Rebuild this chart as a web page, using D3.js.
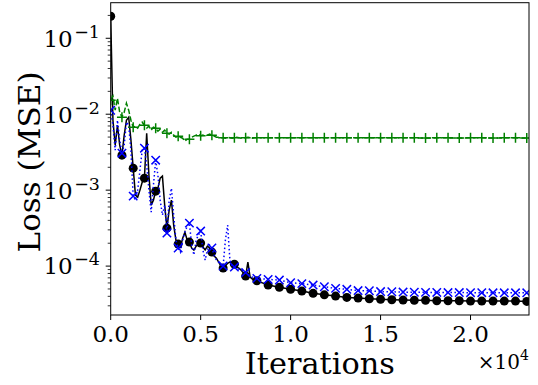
<!DOCTYPE html>
<html lang="en">
<head>
<meta charset="utf-8">
<title>Training loss</title>
<script src="https://cdn.jsdelivr.net/npm/d3@7"></script>
<style>
  body { margin: 0; background: #fff; }
  text { font-family: "DejaVu Serif", serif; fill: #000; }
</style>
</head>
<body>
<script>

// iteration grid: dense logging at the start, then one point per marker
const iterations = [0,125,250,375,500,625,750,875,1000,1125,1250,1375,1500,1625,1750,1875,2000,2125,2250,2375,
  2500,2625,2750,2875,3000,3125,3250,3375,3500,3625,3750,3875,4000,4125,4250,4375,4500,4625,4750,4875,
  5000,5125,5250,5375,5500,5625,5750,5875,6000,6125,6250,6375,6500,6625,6750,6875,7000,7125,7250,7375,
  7500,7625,7750,7875,8000,8125,
  8750,9375,10000,10625,11250,11875,12500,13125,13750,14375,15000,15625,16250,16875,17500,18125,18750,19375,
  20000,20625,21250,21875,22500,23125];

// black solid line, round markers
const lossBlack = [0.195, 0.00834, 0.00391, 0.00716, 0.00391, 0.00289, 0.00530, 0.00834, 0.00914, 0.00455,
  0.00195, 0.000859, 0.000809, 0.00100, 0.00127, 0.00144, 0.00562, 0.00157, 0.000635, 0.000738,
  0.00097, 0.00106, 0.00144, 0.00153, 0.000635, 0.000316, 0.000546, 0.000738, 0.000346, 0.000220,
  0.000195, 0.000178, 0.000233, 0.000280, 0.000220, 0.000207, 0.000173, 0.000163, 0.000183, 0.000195,
  0.000201, 0.000178, 0.000163, 0.000183, 0.000173, 0.000153, 0.000136, 0.000127, 0.000113, 0.000100,
  9.41e-5, 1.00e-4, 1.09e-4, 1.13e-4, 1.09e-4, 1.06e-4, 9.70e-5, 9.41e-5, 8.86e-5, 8.09e-5,
  7.39e-5, 1.13e-4, 7.17e-5, 6.75e-5, 6.55e-5, 6.41e-5,
  5.62e-5, 5.25e-5, 4.95e-5, 4.69e-5, 4.38e-5, 4.18e-5, 4.03e-5, 3.87e-5, 3.79e-5, 3.71e-5, 3.65e-5, 3.60e-5,
  3.57e-5, 3.54e-5, 3.54e-5, 3.50e-5, 3.50e-5, 3.50e-5, 3.46e-5, 3.46e-5, 3.46e-5, 3.46e-5, 3.46e-5, 3.43e-5];

// blue dotted line, x markers
const lossBlue = [0.01129, 0.00716, 0.00336, 0.00834, 0.00455, 0.00307, 0.00391, 0.00785, 0.00716, 0.00336,
  0.000834, 0.000738, 0.00100, 0.00183, 0.00336, 0.00357, 0.00213, 0.00100, 0.000514, 0.00116,
  0.00248, 0.00157, 0.000738, 0.000469, 0.000635, 0.000272, 0.000738, 0.00106, 0.000469, 0.000220,
  0.000173, 0.000153, 0.000220, 0.000280, 0.000336, 0.000368, 0.000189, 0.000140, 0.000220, 0.000256,
  0.000289, 0.000163, 0.000120, 0.000163, 0.000189, 0.000173, 0.000140, 0.000120, 0.000113, 0.000103,
  1.00e-4, 2.20e-4, 3.46e-4, 1.20e-4, 1.00e-4, 9.70e-5, 9.41e-5, 9.13e-5, 8.86e-5, 8.60e-5,
  8.21e-5, 7.85e-5, 7.39e-5, 7.17e-5, 6.95e-5, 6.89e-5,
  6.68e-5, 6.55e-5, 6.03e-5, 5.88e-5, 5.62e-5, 5.34e-5, 5.09e-5, 4.94e-5, 4.76e-5, 4.73e-5, 4.62e-5, 4.59e-5,
  4.55e-5, 4.52e-5, 4.51e-5, 4.50e-5, 4.48e-5, 4.48e-5, 4.47e-5, 4.47e-5, 4.45e-5, 4.45e-5, 4.45e-5, 4.45e-5];

// green dashed line, + markers
const lossGreen = [0.01528, 0.01726, 0.01129, 0.01624, 0.01062, 0.00914, 0.01062, 0.01396, 0.01129, 0.00834,
  0.00675, 0.00695, 0.00655, 0.00738, 0.00785, 0.00716, 0.00655, 0.00695, 0.00616, 0.00675,
  0.00655, 0.00597, 0.00635, 0.00579, 0.00616, 0.00562, 0.00546, 0.00579, 0.00530, 0.00498,
  0.00514, 0.00498, 0.00483, 0.00441, 0.00469, 0.00469, 0.00498, 0.00514, 0.00530, 0.00546,
  0.00521, 0.00530, 0.00514, 0.00530, 0.00546, 0.00530, 0.00514, 0.00498, 0.00498, 0.00491,
  0.00491, 0.00483, 0.00498, 0.00491, 0.00483, 0.00491, 0.00498, 0.00491, 0.00483, 0.00491,
  0.00491, 0.00498, 0.00491, 0.00483, 0.00491, 0.00491,
  0.00490, 0.00488, 0.00491, 0.00489, 0.00488, 0.00490, 0.00489, 0.00488, 0.00489, 0.00488, 0.00488, 0.00489,
  0.00488, 0.00488, 0.00487, 0.00488, 0.00488, 0.00487, 0.00488, 0.00488, 0.00487, 0.00488, 0.00488, 0.00487];

const markEvery = 625;

const xTicks = [0, 5000, 10000, 15000, 20000];
const xTickLabels = ["0.0", "0.5", "1.0", "1.5", "2.0"];
const yTicks = [1e-1, 1e-2, 1e-3, 1e-4];
const yTickExps = ["\u22121", "\u22122", "\u22123", "\u22124"];

var w = 538, h = 385;
var padL = 110.7, padR = 529, padT = 2.7, padB = 315;

var xScale = d3.scaleLinear().domain([0, 23250]).range([padL, padR]);
var yScale = d3.scaleLog().domain([2.27e-5, 0.294]).range([padB, padT]);

var svg = d3.select("body").append("svg")
  .attr("width", w)
  .attr("height", h);

svg.append("clipPath").attr("id", "plotclip")
  .append("rect")
  .attr("x", padL).attr("y", padT)
  .attr("width", padR - padL).attr("height", padB - padT);

var plot = svg.append("g").attr("clip-path", "url(#plotclip)");

function seriesData(vals) {
  return iterations.map(function(it, i) { return {it: it, v: vals[i]}; });
}

var line = d3.line()
  .x(function(d) { return xScale(d.it); })
  .y(function(d) { return yScale(d.v); });

var black = seriesData(lossBlack), blue = seriesData(lossBlue), green = seriesData(lossGreen);
function marks(data) { return data.filter(function(d) { return d.it % markEvery === 0; }); }

//Black solid + dots
plot.append("path").datum(black)
  .attr("d", line).attr("fill", "none")
  .attr("stroke", "black").attr("stroke-width", 1.5);
plot.selectAll("circle.blk").data(marks(black)).enter().append("circle")
  .attr("class", "blk")
  .attr("cx", function(d) { return xScale(d.it); })
  .attr("cy", function(d) { return yScale(d.v); })
  .attr("r", 4.5).attr("fill", "black");

//Blue dotted + x
plot.append("path").datum(blue)
  .attr("d", line).attr("fill", "none")
  .attr("stroke", "#0000ff").attr("stroke-width", 1.5)
  .attr("stroke-dasharray", "1.5,2.5");
var s = 4.2;
plot.selectAll("path.xm").data(marks(blue)).enter().append("path")
  .attr("class", "xm")
  .attr("d", function(d) {
    var x = xScale(d.it), y = yScale(d.v);
    return "M" + (x - s) + "," + (y - s) + "L" + (x + s) + "," + (y + s) +
           "M" + (x - s) + "," + (y + s) + "L" + (x + s) + "," + (y - s);
  })
  .attr("stroke", "#0000ff").attr("stroke-width", 1.5).attr("fill", "none");

//Green dashed + plus
plot.append("path").datum(green)
  .attr("d", line).attr("fill", "none")
  .attr("stroke", "#008000").attr("stroke-width", 1.5)
  .attr("stroke-dasharray", "5.5,2.4");
var p = 5;
plot.selectAll("path.pm").data(marks(green)).enter().append("path")
  .attr("class", "pm")
  .attr("d", function(d) {
    var x = xScale(d.it), y = yScale(d.v);
    return "M" + (x - p) + "," + y + "L" + (x + p) + "," + y +
           "M" + x + "," + (y - p) + "L" + x + "," + (y + p);
  })
  .attr("stroke", "#008000").attr("stroke-width", 1.5).attr("fill", "none");

//Frame
svg.append("rect")
  .attr("x", padL).attr("y", padT)
  .attr("width", padR - padL).attr("height", padB - padT)
  .attr("fill", "none").attr("stroke", "black").attr("stroke-width", 1);

//x ticks
xTicks.forEach(function(t, i) {
  var x = xScale(t);
  svg.append("line").attr("x1", x).attr("x2", x).attr("y1", padB).attr("y2", padB + 5)
    .attr("stroke", "black").attr("stroke-width", 1);
  svg.append("text").attr("x", x).attr("y", 341.5)
    .attr("text-anchor", "middle").attr("font-size", 23)
    .text(xTickLabels[i]);
});

//y major ticks
yTicks.forEach(function(t, i) {
  var y = yScale(t);
  svg.append("line").attr("x1", padL - 5).attr("x2", padL).attr("y1", y).attr("y2", y)
    .attr("stroke", "black").attr("stroke-width", 1);
  var lab = svg.append("text").attr("x", 100).attr("y", y + 8.4)
    .attr("text-anchor", "end").attr("font-size", 23);
  lab.append("tspan").text("10");
  lab.append("tspan").attr("dx", 1.5).attr("dy", -9).attr("font-size", 17.5).text(yTickExps[i]);
});

//y minor ticks
var yDom = yScale.domain();
for (var k = -5; k <= -1; k++) {
  for (var m = 2; m <= 9; m++) {
    var v = m * Math.pow(10, k);
    if (v < yDom[0] || v > yDom[1]) continue;
    svg.append("line").attr("x1", padL - 3).attr("x2", padL)
      .attr("y1", yScale(v)).attr("y2", yScale(v))
      .attr("stroke", "black").attr("stroke-width", 0.8);
  }
}

//offset text
var off = svg.append("text").attr("x", padR).attr("y", 369)
  .attr("text-anchor", "end").attr("font-size", 20);
off.append("tspan").text("\u00d710");
off.append("tspan").attr("dy", -9).attr("font-size", 14).text("4");

//axis titles
svg.append("text").attr("x", (padL + padR) / 2).attr("y", 374)
  .attr("text-anchor", "middle").attr("font-size", 29)
  .attr("textLength", 150).attr("lengthAdjust", "spacingAndGlyphs")
  .text("Iterations");

svg.append("text")
  .attr("transform", "translate(39.5,162) rotate(-90)")
  .attr("text-anchor", "middle").attr("font-size", 29)
  .attr("textLength", 181).attr("lengthAdjust", "spacingAndGlyphs")
  .text("Loss (MSE)");

</script>
</body>
</html>
